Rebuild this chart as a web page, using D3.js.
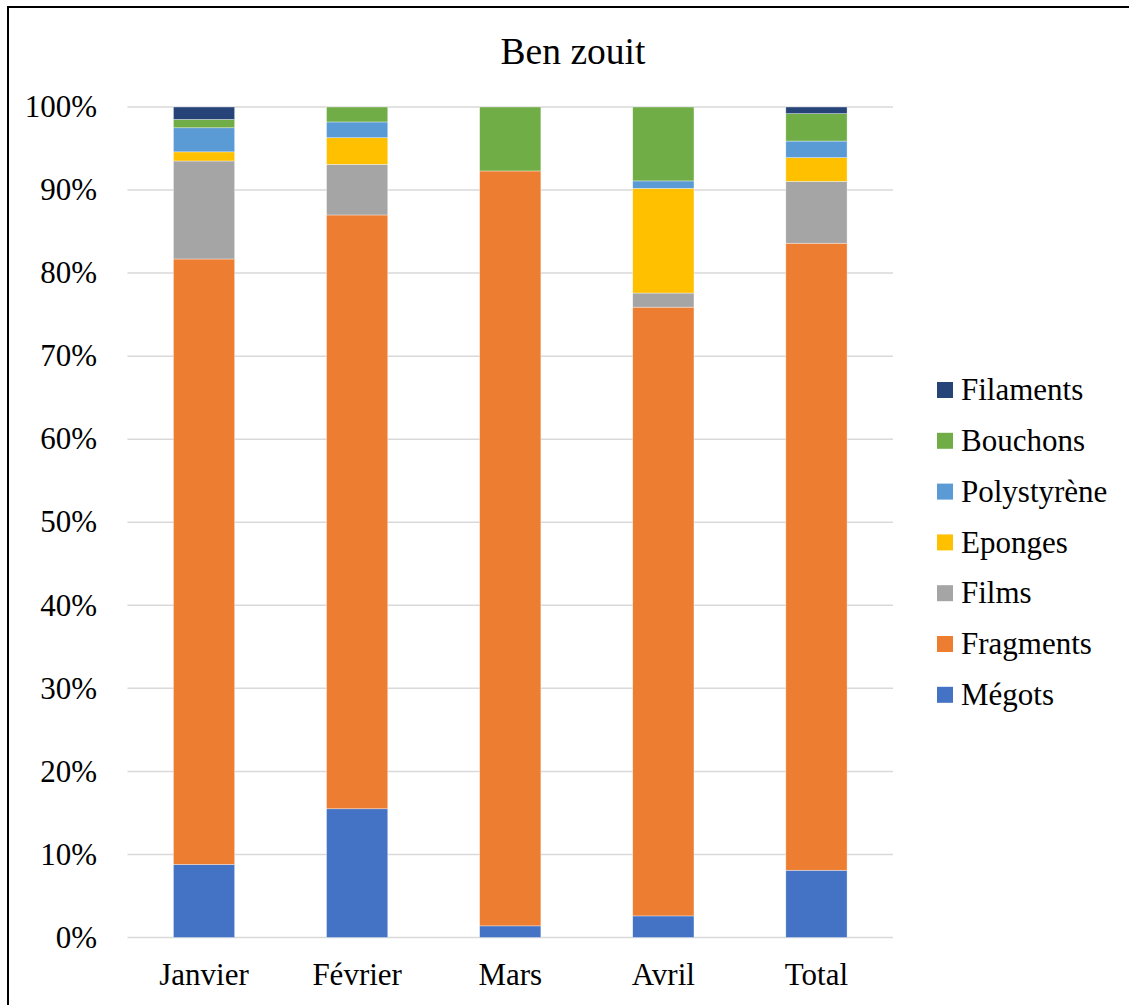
<!DOCTYPE html>
<html>
<head>
<meta charset="utf-8">
<script src="https://cdn.jsdelivr.net/npm/d3@7"></script>
<style>
  html, body { margin: 0; padding: 0; background: #fff; }
  svg { display: block; font-family: "Liberation Serif", "Times New Roman", serif; }
</style>
</head>
<body>
<svg id="chart" width="1129" height="1005"></svg>
<script>
// Monthly composition of collected litter, Ben zouit (percent of items)
const months = ["Janvier", "Février", "Mars", "Avril", "Total"];
const categories = ["Mégots", "Fragments", "Films", "Eponges", "Polystyrène", "Bouchons", "Filaments"];
const colors = ["#4472C4", "#ED7D31", "#A5A5A5", "#FFC000", "#5B9BD5", "#70AD47", "#264478"];

const megots      = [8.8, 15.5, 1.4, 2.6, 8.1];
const fragments   = [72.9, 71.5, 90.9, 73.3, 75.5];
const films       = [11.8, 6.1, 0, 1.7, 7.45];
const eponges     = [1.1, 3.2, 0, 12.6, 2.85];
const polystyrene = [2.9, 1.9, 0, 0.9, 2.0];
const bouchons    = [1.0, 1.8, 7.7, 8.9, 3.3];
const filaments   = [1.5, 0, 0, 0, 0.8];

const yTicks = [0, 10, 20, 30, 40, 50, 60, 70, 80, 90, 100];
const title = "Ben zouit";

const seriesValues = [megots, fragments, films, eponges, polystyrene, bouchons, filaments];
const rows = months.map((m, i) => {
  const r = { month: m };
  categories.forEach((c, k) => { r[c] = seriesValues[k][i]; });
  return r;
});

const svg = d3.select("#chart");

// outer frame
svg.append("rect")
  .attr("x", 8).attr("y", 7)
  .attr("width", 1140).attr("height", 1020)
  .attr("fill", "none").attr("stroke", "#000").attr("stroke-width", 2);

const plotLeft = 127.5, plotRight = 893, plotTop = 107, plotBottom = 937.5;

const x = d3.scaleBand().domain(months).range([plotLeft, plotRight])
  .paddingInner(0.6).paddingOuter(0.3);
const y = d3.scaleLinear().domain([0, 100]).range([plotBottom, plotTop]);
const color = d3.scaleOrdinal().domain(categories).range(colors);

// gridlines
svg.append("g").selectAll("line").data(yTicks).join("line")
  .attr("x1", plotLeft).attr("x2", plotRight)
  .attr("y1", d => y(d)).attr("y2", d => y(d))
  .attr("stroke", "#D9D9D9").attr("stroke-width", 1.5);

// y tick labels
svg.append("g").selectAll("text").data(yTicks).join("text")
  .attr("x", 97).attr("y", d => y(d))
  .attr("dy", "0.33em")
  .attr("text-anchor", "end")
  .attr("font-size", 31)
  .attr("fill", "#000")
  .text(d => d + "%");

// stacked bars
const stacked = d3.stack().keys(categories)(rows);
svg.append("g").selectAll("g").data(stacked).join("g")
  .attr("fill", d => color(d.key))
  .selectAll("rect").data(d => d).join("rect")
  .attr("x", d => x(d.data.month))
  .attr("width", x.bandwidth())
  .attr("y", d => y(d[1]))
  .attr("height", d => y(d[0]) - y(d[1]))
  .attr("stroke", "#fff").attr("stroke-width", 0.6).attr("stroke-opacity", 0.6);

// x labels
svg.append("g").selectAll("text").data(months).join("text")
  .attr("x", d => x(d) + x.bandwidth() / 2)
  .attr("y", 985)
  .attr("text-anchor", "middle")
  .attr("font-size", 31)
  .attr("fill", "#000")
  .text(d => d);

// title
svg.append("text")
  .attr("x", 573).attr("y", 64)
  .attr("text-anchor", "middle")
  .attr("font-size", 37.5)
  .attr("fill", "#000")
  .text(title);

// legend (top to bottom: reverse stacking order)
const legendItems = categories.slice().reverse();
const lg = svg.append("g").attr("transform", "translate(937,390)");
const item = lg.selectAll("g").data(legendItems).join("g")
  .attr("transform", (d, i) => `translate(0,${i * 50.8})`);
item.append("rect")
  .attr("x", 0).attr("y", -8).attr("width", 16).attr("height", 16)
  .attr("fill", d => color(d));
item.append("text")
  .attr("x", 24).attr("y", 0).attr("dy", "0.33em")
  .attr("font-size", 31)
  .attr("fill", "#000")
  .text(d => d);
</script>
</body>
</html>
